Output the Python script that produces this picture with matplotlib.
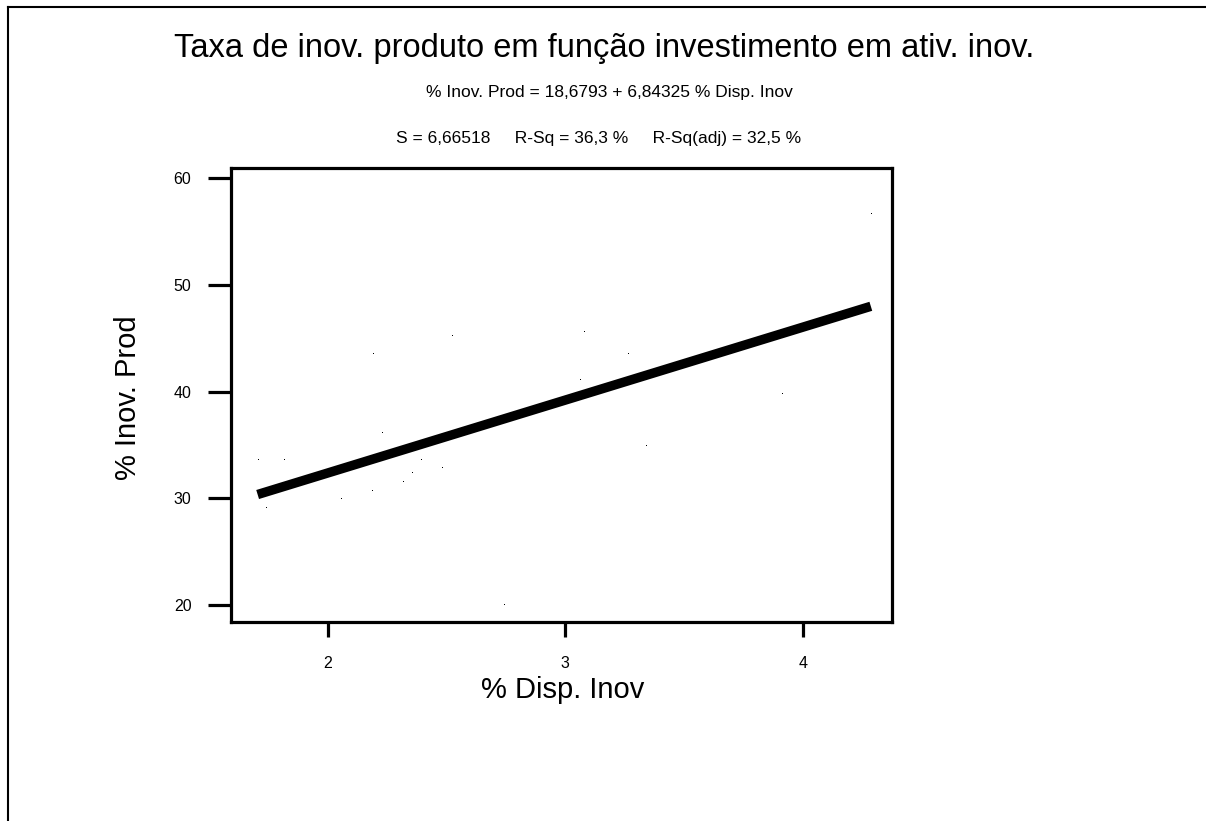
import numpy as np
import matplotlib
matplotlib.use("Agg")
import matplotlib.pyplot as plt
from matplotlib.lines import Line2D

# -----------------------------
# Data
# -----------------------------
disp_inov = [2.523, 2.190, 3.060, 2.227, 4.285, 3.080, 3.265, 3.913, 3.338,
             1.706, 1.819, 2.394, 2.483, 2.357, 2.316, 2.187, 2.058, 1.741, 2.743]
inov_prod = [45.20, 43.51, 41.07, 36.08, 56.69, 45.55, 43.51, 39.74, 34.89,
             33.56, 33.56, 33.56, 32.81, 32.34, 31.49, 30.65, 29.90, 29.06, 19.97]

intercept = 18.6793
slope = 6.84325

x_ticks = [2, 3, 4]
y_ticks = [20, 30, 40, 50, 60]

plt.rcParams["font.family"] = ["Liberation Sans", "DejaVu Sans"]

W, H = 1206, 821
fig = plt.figure(figsize=(W / 100, H / 100), dpi=100)
ax = fig.add_axes([231 / W, 1 - 622 / H, (892 - 231) / W, (622 - 168) / H])

# scatter points (tiny dots) and fitted line
ax.plot(disp_inov, inov_prod, ",", color="black")
x_fit = np.array([min(disp_inov), max(disp_inov)])
ax.plot(x_fit, intercept + slope * x_fit, color="black", lw=6.8,
        solid_capstyle="butt")

ax.set_xlim(1.594, 4.374)
ax.set_ylim(18.4, 60.97)
ax.set_xticks(x_ticks)
ax.set_yticks(y_ticks)
for s in ax.spines.values():
    s.set_linewidth(2.3)
ax.tick_params(axis="y", length=16.5, width=2.3, pad=12, labelsize=11.5)
ax.tick_params(axis="x", length=10.5, width=2.3, pad=14, labelsize=11.5)

fig.text(563 / W, 1 - 690 / H, "% Disp. Inov", ha="center", va="center", fontsize=21)
fig.text(128 / W, 1 - 398 / H, "% Inov. Prod", ha="center", va="center",
         rotation=90, fontsize=21)

fig.text(604 / W, 1 - 49 / H,
         "Taxa de inov. produto em função investimento em ativ. inov.",
         ha="center", va="center", fontsize=23.5)
fig.text(609 / W, 1 - 93 / H, "% Inov. Prod = 18,6793 + 6,84325 % Disp. Inov",
         ha="center", va="center", fontsize=12.5)
fig.text(599 / W, 1 - 139 / H,
         "S = 6,66518     R-Sq = 36,3 %     R-Sq(adj) = 32,5 %",
         ha="center", va="center", fontsize=12.5)

# outer frame (left and top only visible)
fig.add_artist(Line2D([8 / W, 8 / W], [0, 1 - 7 / H], color="black", lw=1.5,
                      transform=fig.transFigure))
fig.add_artist(Line2D([8 / W, 1], [1 - 7 / H, 1 - 7 / H], color="black", lw=1.5,
                      transform=fig.transFigure))

fig.savefig("out.png", dpi=100)
